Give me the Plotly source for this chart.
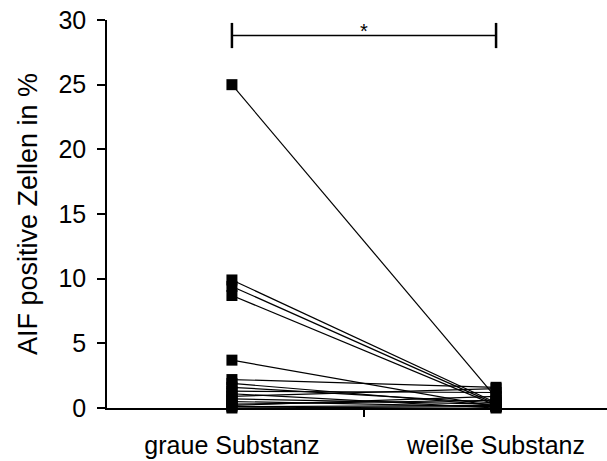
import plotly.graph_objects as go

categories = ["graue Substanz", "weiße Substanz"]
cat_pos = [1, 2]
graue = [25.0, 9.9, 9.4, 8.7, 3.7, 2.2, 1.9, 1.6, 1.3, 1.1, 0.9, 0.7, 0.5, 0.3, 0.2, 0.1, 0.0]
weisse = [0.8, 0.4, 0.3, 0.2, 0.1, 1.6, 0.2, 0.4, 1.2, 0.0, 1.5, 0.3, 0.1, 0.6, 0.9, 0.2, 0.1]
sig_y = 28.8
sig_label = "*"
y_ticks = [0, 5, 10, 15, 20, 25, 30]

FONT = "Liberation Sans, Arial, sans-serif"

fig = go.Figure()
for a, b in zip(graue, weisse):
    fig.add_trace(go.Scatter(
        x=cat_pos, y=[a, b], mode="lines+markers",
        line=dict(color="black", width=1.2),
        marker=dict(symbol="square", size=11, color="black"),
        showlegend=False, hoverinfo="skip", cliponaxis=False))

# significance bracket
fig.add_trace(go.Scatter(
    x=cat_pos, y=[sig_y, sig_y], mode="lines+markers",
    line=dict(color="black", width=1.5),
    marker=dict(symbol="line-ns", size=18, line=dict(color="black", width=2.5)),
    showlegend=False, hoverinfo="skip", cliponaxis=False))
fig.add_annotation(x=sum(cat_pos) / 2, y=sig_y, text=sig_label, showarrow=False,
                   yshift=5, font=dict(family=FONT, size=20, color="black"))

# invisible trace on second x-axis for category labels
fig.add_trace(go.Scatter(x=cat_pos, y=[None, None], xaxis="x2", showlegend=False,
                         hoverinfo="skip"))

fig.update_layout(
    width=607, height=461,
    margin=dict(l=107, r=0, t=20, b=53, autoexpand=False),
    paper_bgcolor="white", plot_bgcolor="white",
    font=dict(family=FONT, size=24, color="black"),
    xaxis=dict(range=[0.527, 2.42], tickvals=[1.5], ticktext=[""],
               ticks="outside", ticklen=7, tickwidth=1.5, tickcolor="black",
               showline=True, linecolor="black", linewidth=1.5,
               showgrid=False, zeroline=False, automargin=False),
    xaxis2=dict(range=[0.527, 2.42], overlaying="x", side="bottom",
                tickvals=cat_pos, ticktext=categories, ticks="",
                showline=False, showgrid=False, zeroline=False, automargin=False,
                ticklabelstandoff=20, ticklabeloverflow="allow",
                tickfont=dict(family=FONT, size=25, color="black")),
    yaxis=dict(range=[0, 30], tickvals=y_ticks,
               ticks="outside", ticklen=8, tickwidth=1.5, tickcolor="black",
               showline=True, linecolor="black", linewidth=1.5,
               showgrid=False, zeroline=False, automargin=False,
               ticklabelstandoff=6, ticklabeloverflow="allow",
               title=dict(text="AIF positive Zellen in %", standoff=13,
                          font=dict(family=FONT, size=27)),
               tickfont=dict(family=FONT, size=25)),
)

fig.write_html("out.html", config={"displayModeBar": False},
               post_script="document.body.style.margin='0';")
